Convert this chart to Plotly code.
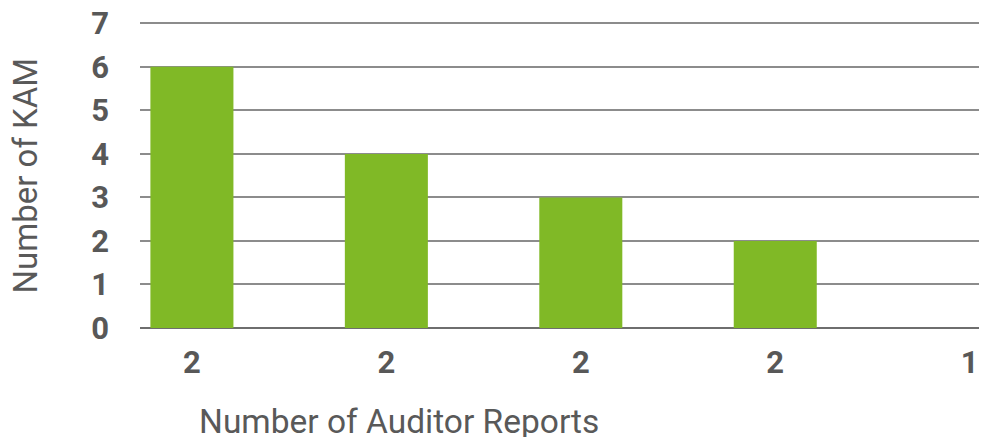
import plotly.graph_objects as go

tick_labels = ["2", "2", "2", "2", "1"]
kam_counts = [6, 4, 3, 2, 0]
y_ticks = [0, 1, 2, 3, 4, 5, 6, 7]

x_idx = list(range(len(tick_labels)))

# The page body adds an 8px offset; the figure is sized to compensate.
W, H = 979, 429
L, T, B = 132, 11, 109
PW = W - L
PH = H - T - B

fig = go.Figure()
fig.add_trace(go.Bar(
    x=x_idx, y=kam_counts, width=0.427,
    marker=dict(color="#80B926", line=dict(width=0)),
    hoverinfo="skip",
))

fig.update_layout(
    width=W, height=H,
    margin=dict(l=L, r=0, t=T, b=B, autoexpand=False),
    paper_bgcolor="white", plot_bgcolor="white",
    showlegend=False,
    font=dict(family="Roboto", color="#585858"),
    xaxis=dict(
        range=[-0.267, 4.089], automargin=False,
        tickmode="array", tickvals=x_idx, ticktext=tick_labels,
        tickfont=dict(family="Roboto", size=31, color="#585858", weight="bold"),
        showgrid=False, zeroline=False, showline=False, ticks="",
        ticklabelstandoff=13, ticklabeloverflow="allow",
    ),
    yaxis=dict(
        range=[0, 7.1], automargin=False,
        tickmode="array", tickvals=y_ticks,
        tickfont=dict(family="Roboto", size=31, color="#585858", weight="bold"),
        showgrid=True, gridcolor="#8c8c8c", gridwidth=1.5,
        zeroline=True, zerolinecolor="#6e6e6e", zerolinewidth=1.5,
        showline=False, ticks="",
        ticklabelstandoff=30, ticklabeloverflow="allow",
    ),
    annotations=[
        dict(text="Number of KAM", xref="paper", yref="paper",
             x=(17 - L) / PW, y=(320 - 167.5) / PH, xanchor="center", yanchor="middle",
             textangle=-90, showarrow=False,
             font=dict(family="Roboto", size=33, color="#595959")),
        dict(text="Number of Auditor Reports", xref="paper", yref="paper",
             x=(391 - L) / PW, y=0, yshift=-93, xanchor="center", yanchor="middle",
             showarrow=False,
             font=dict(family="Roboto", size=33.5, color="#595959")),
    ],
)

fig.write_html("out.html")
